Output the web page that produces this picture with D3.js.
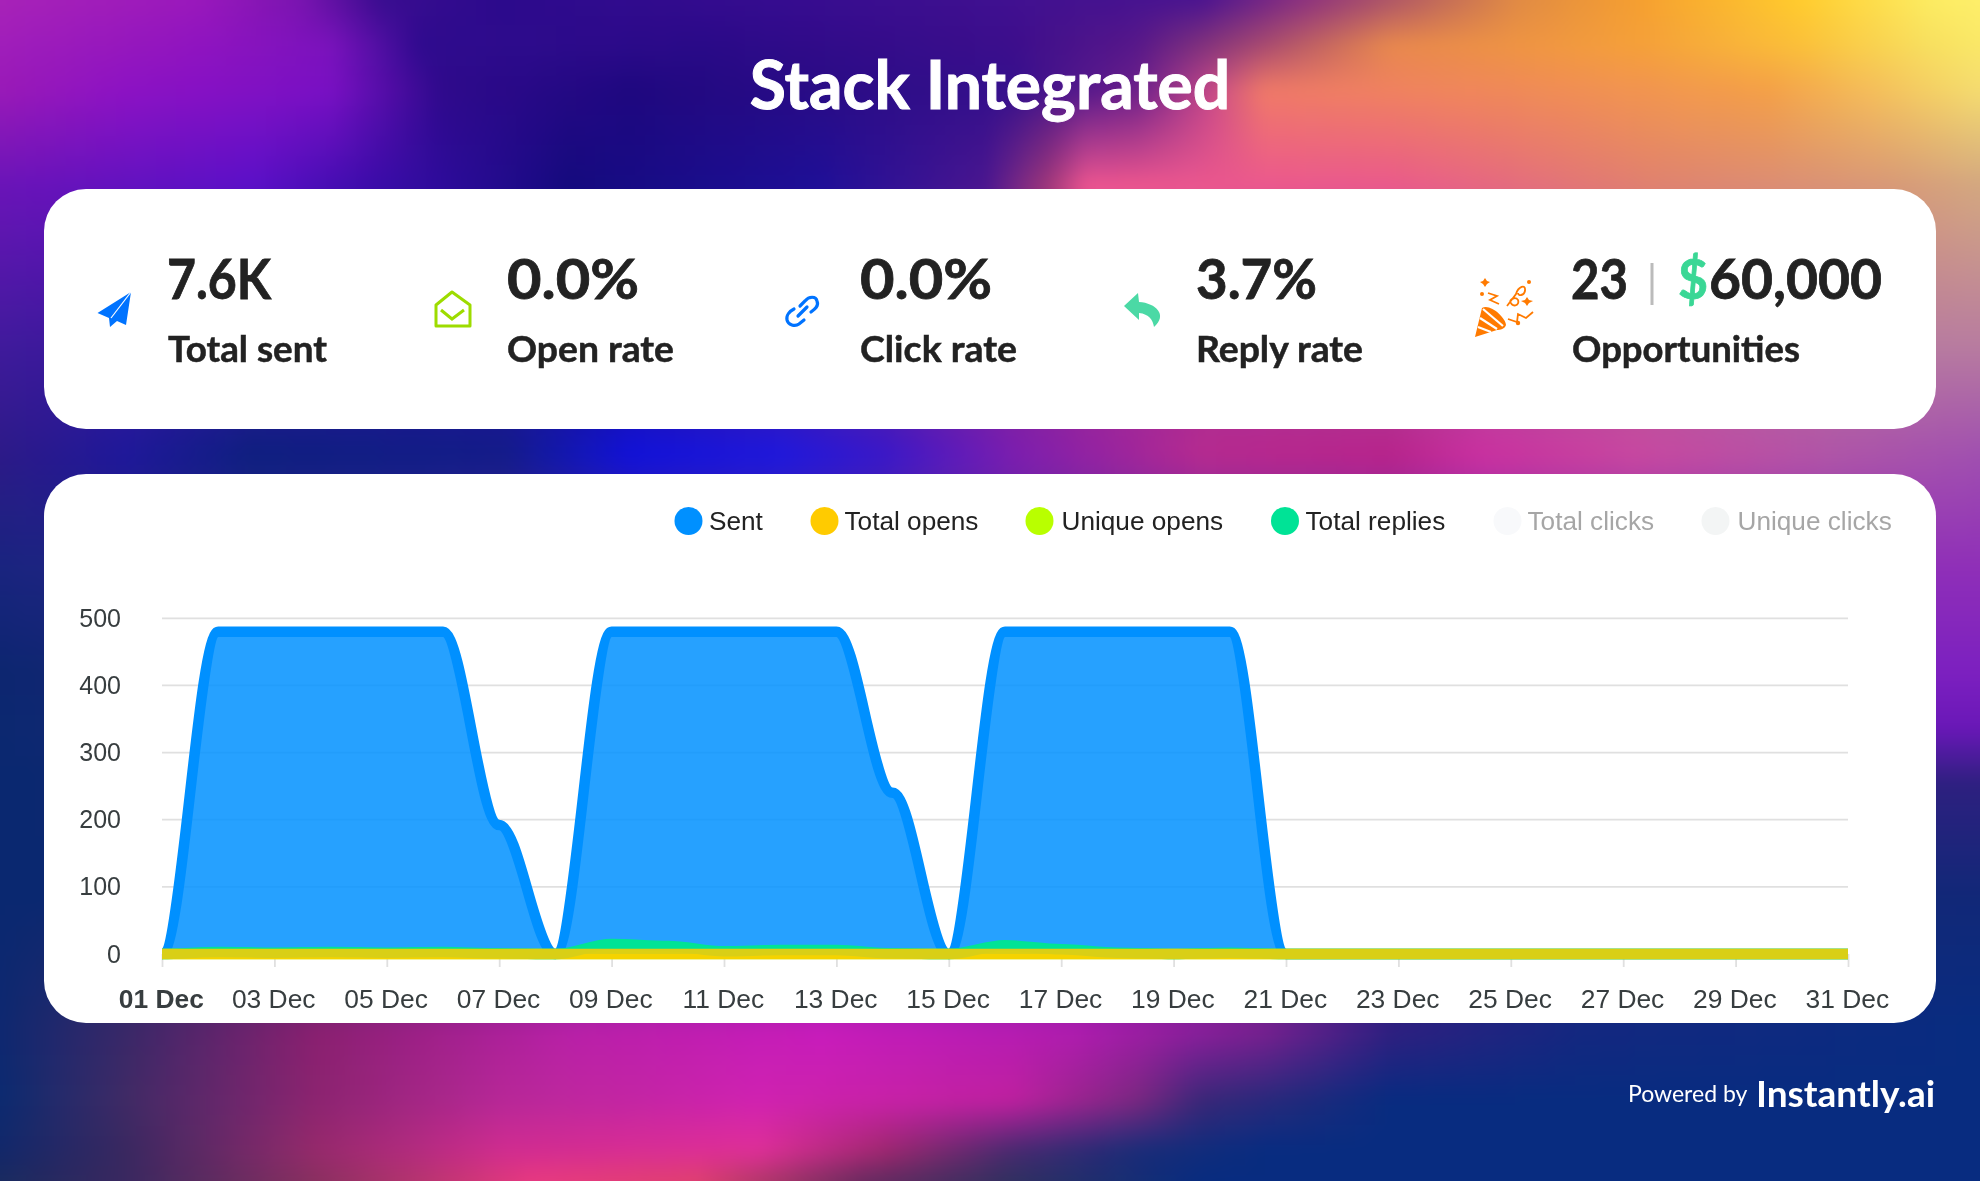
<!DOCTYPE html>
<html>
<head>
<meta charset="utf-8">
<script src="https://cdn.jsdelivr.net/npm/d3@7/dist/d3.min.js"></script>
<style>
  html, body { margin: 0; padding: 0; background: #1a1480; overflow: hidden; }
  #bg { position: absolute; left: -30px; top: -30px; width: 2040px; height: 1240px; filter: blur(6px); }
  #chart { position: absolute; left: 0; top: 0; }
  text { font-family: "Liberation Sans", sans-serif; }
  .brand { font-family: Lato, sans-serif; }
</style>
</head>
<body>
<canvas id="bg" width="204" height="124"></canvas>
<div id="chart"></div>
<script>
var days = d3.range(1, 32);
var tickDays = days.filter(function(d) { return d % 2 == 1; });
var sent = [0,480,480,480,480,480,192,0,480,480,480,480,480,240,0,480,480,480,480,480,0,0,0,0,0,0,0,0,0,0,0];
var totalOpens = [0,0,0,0,0,0,0,0,0,0,0,0,0,0,0,0,0,0,0,0,0,0,0,0,0,0,0,0,0,0,0];
var uniqueOpens = [0,0,0,0,0,0,0,0,0,0,0,0,0,0,0,0,0,0,0,0,0,0,0,0,0,0,0,0,0,0,0];
var totalReplies = [0,3,2,3,2,3,1,0,15,12,4,6,6,1,0,13,7,2,0,2,0,0,0,0,0,0,0,0,0,0,0];
var yTicks = [0,100,200,300,400,500];

var legendNames = ["Sent","Total opens","Unique opens","Total replies","Total clicks","Unique clicks"];
var legendColors = ["#0090ff","#ffcb00","#b9ff00","#00e396","#f8f9fb","#f3f5f5"];

var W = 1980, H = 1181;

// background colours, one list of x stops per row
var bgRows = [
  [0, [[0,"#a822b8"],[200,"#9a18bc"],[300,"#7a14b0"],[380,"#3a0d90"],[500,"#2c0a8c"],[800,"#370c90"],[1200,"#4a1490"],[1300,"#8a3080"],[1515,"#e08a45"],[1640,"#f6a030"],[1800,"#ffcc2e"],[1930,"#fdec62"],[1980,"#ffef6a"]]],
  [45, [[0,"#a01eba"],[200,"#9014c0"],[330,"#7a12bc"],[420,"#2f0b8e"],[700,"#2a0a88"],[1010,"#3c0e8c"],[1137,"#58188a"],[1263,"#a84a70"],[1390,"#e8884e"],[1640,"#f5a03a"],[1800,"#fbc03a"],[1930,"#f8e060"],[1980,"#fae868"]]],
  [90, [[0,"#9a1ab8"],[126,"#8d12c4"],[330,"#7a10c4"],[440,"#2f0a8c"],[630,"#1f0880"],[1010,"#35108c"],[1137,"#6b1f8a"],[1212,"#c84a88"],[1263,"#f07a68"],[1515,"#f08a58"],[1768,"#f4a048"],[1945,"#f5d468"],[1980,"#f5dc70"]]],
  [185, [[0,"#6a14b8"],[252,"#5c10c8"],[380,"#3a0ca8"],[570,"#150a7e"],[820,"#1f0f98"],[985,"#4a1690"],[1048,"#a0387a"],[1086,"#ec5590"],[1390,"#ea5a8c"],[1640,"#e08070"],[1894,"#d89a78"],[1980,"#d4a880"]]],
  [345, [[0,"#401a9c"],[600,"#1a1098"],[1100,"#a02890"],[1936,"#b87ca0"],[1980,"#b87ca0"]]],
  [454, [[0,"#2d1a88"],[126,"#1f189a"],[252,"#0f1f80"],[505,"#141c8a"],[630,"#1212d8"],[783,"#2018dc"],[884,"#3a18c8"],[1010,"#7a1eb0"],[1200,"#b62a90"],[1390,"#b8248c"],[1478,"#ca30a0"],[1640,"#c848a0"],[1830,"#b055a8"],[1980,"#a050b0"]]],
  [564, [[0,"#1a2480"],[1936,"#9030b8"],[1980,"#9030b8"]]],
  [674, [[0,"#0d2670"],[1936,"#7c20c0"],[1980,"#7c20c0"]]],
  [728, [[0,"#0c2870"],[1936,"#6a18b8"],[1980,"#6a18b8"]]],
  [783, [[0,"#0a2870"],[1936,"#2e2080"],[1980,"#2e2080"]]],
  [893, [[0,"#0a2870"],[1936,"#122878"],[1980,"#122878"]]],
  [1030, [[0,"#0e2870"],[126,"#3a2868"],[316,"#8a2070"],[568,"#b820a8"],[820,"#c81cbc"],[1074,"#b01cb0"],[1263,"#7a2090"],[1390,"#301f80"],[1580,"#142880"],[1980,"#082c80"]]],
  [1100, [[0,"#0c2a70"],[126,"#402a66"],[316,"#8c2470"],[505,"#b82898"],[758,"#d022b0"],[1010,"#c020a0"],[1137,"#7a2880"],[1200,"#3a2878"],[1390,"#082c80"],[1980,"#082c80"]]],
  [1150, [[0,"#12286a"],[126,"#3a2860"],[316,"#962a6c"],[505,"#d02c90"],[758,"#e02f98"],[884,"#a02870"],[1010,"#4a2a70"],[1137,"#1a2c78"],[1263,"#082c80"],[1980,"#082c80"]]],
  [1181, [[0,"#1a2a60"],[126,"#3a2860"],[316,"#8a3060"],[530,"#e83a80"],[695,"#e04070"],[860,"#6a2a60"],[1010,"#303060"],[1200,"#082c80"],[1980,"#082c80"]]]
];

var bgCanvas = document.getElementById("bg");
var ctx = bgCanvas.getContext("2d");
var img = ctx.createImageData(bgCanvas.width, bgCanvas.height);
var rowY = bgRows.map(function(r) { return r[0]; });
var rowScales = bgRows.map(function(r) {
  return d3.scaleLinear().domain(r[1].map(function(s) { return s[0]; }))
    .range(r[1].map(function(s) { return s[1]; })).interpolate(d3.interpolateRgb).clamp(true);
});
for (var j = 0; j < bgCanvas.height; j++) {
  var py = (j + 0.5) * 10 - 30;
  var k = Math.max(0, Math.min(d3.bisectRight(rowY, py) - 1, rowY.length - 2));
  var t = Math.max(0, Math.min(1, (py - rowY[k]) / (rowY[k + 1] - rowY[k])));
  for (var i = 0; i < bgCanvas.width; i++) {
    var px = (i + 0.5) * 10 - 30;
    var c = d3.rgb(d3.interpolateRgb(rowScales[k](px), rowScales[k + 1](px))(t));
    var o = (j * bgCanvas.width + i) * 4;
    img.data[o] = c.r; img.data[o + 1] = c.g; img.data[o + 2] = c.b; img.data[o + 3] = 255;
  }
}
ctx.putImageData(img, 0, 0);

var svg = d3.select("#chart").append("svg").attr("width", W).attr("height", H).style("display", "block");

// title and footer
svg.append("text").attr("class", "brand").attr("x", 990).attr("y", 109).attr("text-anchor", "middle")
  .attr("fill", "#fff").attr("stroke", "#fff").attr("stroke-width", 1).attr("font-size", 66).attr("font-weight", 700).text("Stack Integrated");
svg.append("text").attr("class", "brand").attr("x", 1628).attr("y", 1102).attr("fill", "#fff")
  .attr("font-size", 23).text("Powered by");
svg.append("text").attr("class", "brand").attr("x", 1756).attr("y", 1107).attr("fill", "#fff")
  .attr("font-size", 37).attr("font-weight", 700).text("Instantly.ai");

// cards
svg.append("rect").attr("x", 44).attr("y", 189).attr("width", 1892).attr("height", 240).attr("rx", 42).attr("fill", "#fff");
svg.append("rect").attr("x", 44).attr("y", 474).attr("width", 1892).attr("height", 549).attr("rx", 42).attr("fill", "#fff");

// stats row
var statValues = ["7.6K","0.0%","0.0%","3.7%","23","$","60,000"];
var statX = [167,507,860,1196,1571,1678,1709];
var statW = [104,132,132,121,57,30,173];
var statFill = ["#222","#222","#222","#222","#222","#3ad795","#222"];
var labels = ["Total sent","Open rate","Click rate","Reply rate","Opportunities"];
var labelX = [168,507,860,1196,1572];
var labelW = [159,167,157,167,228];

statValues.forEach(function(v, i) {
  svg.append("text").attr("class", "brand").attr("x", statX[i]).attr("y", 299)
    .attr("fill", statFill[i]).attr("stroke", statFill[i]).attr("stroke-width", 0.8)
    .attr("font-size", 56).attr("font-weight", 700)
    .attr("textLength", statW[i]).attr("lengthAdjust", "spacingAndGlyphs").text(v);
});
labels.forEach(function(v, i) {
  svg.append("text").attr("class", "brand").attr("x", labelX[i]).attr("y", 362)
    .attr("fill", "#222").attr("stroke", "#222").attr("stroke-width", 0.5)
    .attr("font-size", 36).attr("font-weight", 700)
    .attr("textLength", labelW[i]).attr("lengthAdjust", "spacingAndGlyphs").text(v);
});
svg.append("line").attr("x1", 1652).attr("x2", 1652).attr("y1", 263).attr("y2", 305).attr("stroke", "#bbb").attr("stroke-width", 3);

// icons
svg.append("path").attr("d", "M131,292 L97.5,313 L109,318 L110,327 L117,321 L126,325 Z").attr("fill", "#0073ff");
svg.append("path").attr("d", "M131,292 L111,318").attr("stroke", "#fff").attr("stroke-width", 1.2);
svg.append("path").attr("d", "M436,305 L452,292 L470,305 L470,326 L436,326 Z").attr("fill", "none").attr("stroke", "#9ddc00").attr("stroke-width", 3).attr("stroke-linejoin", "round");
svg.append("path").attr("d", "M441,310 L452,319 L464,310").attr("fill", "none").attr("stroke", "#9ddc00").attr("stroke-width", 3);
svg.append("g").attr("fill", "none").attr("stroke", "#0073ff").attr("stroke-width", 3.2).attr("stroke-linecap", "round").call(function(g) {
  g.append("path").attr("d", "M800,306 L805,301 C809,296 816,296 817,301 C819,306 815,309 811,312");
  g.append("path").attr("d", "M804,320 L799,324 C795,327 788,325 787,320 C786,315 790,311 794,309");
  g.append("path").attr("d", "M798,316 L807,307");
});
svg.append("path").attr("d", "M1124,306 L1138,293 L1139,302 C1156,303 1168,315 1154,327 C1153,320 1149,314 1139,313 L1139,320 Z").attr("fill", "#4bd9a5");
svg.append("g").attr("fill", "#ff7a00").call(function(g) {
  g.append("path").attr("d", "M1475,337 L1482,308 C1490,303 1506,318 1506,325 C1505,329 1500,330 1497,330 Z");
  g.append("circle").attr("cx", 1482).attr("cy", 294).attr("r", 2);
  g.append("circle").attr("cx", 1529).attr("cy", 282).attr("r", 2);
  g.append("circle").attr("cx", 1518).attr("cy", 323).attr("r", 2.2);
  g.append("path").attr("d", "M1527,297 L1529,300 L1533,301 L1529,303 L1527,306 L1525,303 L1521,301 L1525,300 Z");
  g.append("path").attr("d", "M1485,278 L1487,281 L1490,282 L1487,284 L1485,287 L1483,284 L1480,282 L1483,281 Z");
});
svg.append("g").attr("stroke", "#fff").attr("stroke-width", 2.2).attr("fill", "none").call(function(g) {
  g.append("path").attr("d", "M1478,327 L1491,332");
  g.append("path").attr("d", "M1480,318 L1497,329");
  g.append("path").attr("d", "M1483,309 L1503,326");
});
svg.append("path").attr("d", "M1508,319 L1517,322 L1518,314 L1526,318 L1533,312 M1488,293 L1497,296 L1490,300 L1499,304 M1507,306 L1516,294 C1518,287 1526,283 1525,291 C1524,296 1518,296 1518,293 M1510,301 C1512,308 1520,306 1518,300 C1516,297 1512,298 1510,301").attr("fill", "none").attr("stroke", "#ff7a00").attr("stroke-width", 1.8);

// legend
var legendMarkX = [688.5,824.5,1039.5,1285,1507.5,1715.5];
var legendTextX = [709,844.5,1061.5,1305.5,1527.5,1737.5];
legendNames.forEach(function(name, i) {
  svg.append("circle").attr("cx", legendMarkX[i]).attr("cy", 521).attr("r", 14).attr("fill", legendColors[i]);
  svg.append("text").attr("x", legendTextX[i]).attr("y", 530).attr("font-size", 26.2)
    .attr("fill", i < 4 ? "#222" : "#a6a6a6").text(name);
});

// same smoothing as the original chart: fixed horizontal control points
function curveChart(context) {
  var x0, y0, n;
  return {
    areaStart: function() { this._line = 0; },
    areaEnd: function() { this._line = NaN; },
    lineStart: function() { n = 0; },
    lineEnd: function() { if (this._line === 0) context.closePath(); this._line = 1 - this._line; },
    point: function(x, y) {
      if (n++ == 0) {
        this._line ? context.lineTo(x, y) : context.moveTo(x, y);
      } else {
        var c = (x - x0) * 0.35;
        context.bezierCurveTo(x0 + c, y0, x - c, y, x, y);
      }
      x0 = x; y0 = y;
    }
  };
}

// chart
var x = d3.scaleLinear().domain([1, 31]).range([162, 1848]);
var y = d3.scaleLinear().domain([0, 500]).range([954, 618.3]);

var grid = svg.append("g");
grid.selectAll("line").data(yTicks.slice(1)).enter().append("line")
  .attr("x1", x(1)).attr("x2", x(31))
  .attr("y1", function(d) { return y(d); }).attr("y2", function(d) { return y(d); })
  .attr("stroke", "#e0e0e0").attr("stroke-width", 1.8);

var yAxis = svg.append("g").attr("transform", "translate(121,0)")
  .call(d3.axisLeft(y).tickValues(yTicks).tickSize(0).tickPadding(0));
yAxis.select(".domain").remove();
yAxis.selectAll("text").style("font-size", "25px").attr("fill", "#373d3f");

var xAxis = svg.append("g").attr("transform", "translate(0,954)")
  .call(d3.axisBottom(x).tickValues(tickDays).tickSize(13).tickPadding(22)
    .tickFormat(function(d) { return d3.format("02")(d) + " Dec"; }));
xAxis.select(".domain").remove();
xAxis.selectAll("line").attr("stroke", "#e0e0e0").attr("stroke-width", 1.8);
xAxis.selectAll("text").style("font-size", "26.4px").attr("fill", "#373d3f").attr("dx", -1.2)
  .style("font-weight", function(d) { return d == 1 ? 700 : 400; });

var area = d3.area().curve(curveChart).x(function(d, i) { return x(days[i]); }).y0(y(0)).y1(function(d) { return y(d); });
var line = d3.line().curve(curveChart).x(function(d, i) { return x(days[i]); }).y(function(d) { return y(d); });

var layers = [
  {values: sent, color: legendColors[0], lineOpacity: 1},
  {values: uniqueOpens, color: legendColors[2], lineOpacity: 1},
  {values: totalReplies, color: legendColors[3], lineOpacity: 1},
  {values: totalOpens, color: legendColors[1], lineOpacity: 0.85}
];
layers.forEach(function(s) {
  svg.append("path").attr("d", area(s.values)).attr("fill", s.color).attr("fill-opacity", 0.85);
  svg.append("path").attr("d", line(s.values)).attr("fill", "none").attr("stroke", s.color)
    .attr("stroke-width", 10.5).attr("stroke-opacity", s.lineOpacity);
});
</script>
</body>
</html>
